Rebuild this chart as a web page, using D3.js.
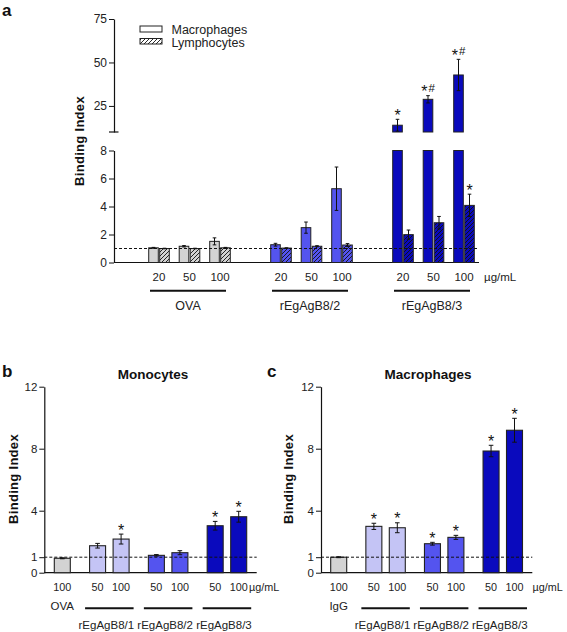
<!DOCTYPE html>
<html><head><meta charset="utf-8">
<script src="https://cdn.jsdelivr.net/npm/d3@7"></script>
<style>
body{margin:0;background:#fff;}
svg{display:block;font-family:"Liberation Sans",Arial,sans-serif;}
</style>
</head><body>
<svg id="chart" width="567" height="632"></svg>
<script>
// ---------- DATA ----------
// Panel a
const concA = ["20", "50", "100"];
const groupsA = ["OVA", "rEgAgB8/2", "rEgAgB8/3"];
const macroA = [1.05, 1.16, 1.51, 1.27, 2.49, 5.27, 13.9, 28.8, 42.8];
const macroErrA = [0.03, 0.05, 0.25, 0.10, 0.40, 1.55, 3.4, 2.1, 9.0];
const lymphoA = [1.00, 1.00, 1.05, 1.03, 1.16, 1.25, 1.99, 2.84, 4.08];
const lymphoErrA = [0.02, 0.02, 0.03, 0.02, 0.04, 0.10, 0.33, 0.45, 0.80];
const macroSigA = ["", "", "", "", "", "", "*", "*#", "*#"];
const lymphoSigA = ["", "", "", "", "", "", "", "", "*"];
const lowTicksA = [0, 2, 4, 6, 8];
const highTicksA = [25, 50, 75];
const legendA = ["Macrophages", "Lymphocytes"];

// Panels b and c
const concBC = [["100"], ["50", "100"], ["50", "100"], ["50", "100"]];
const groupsB = ["OVA", "rEgAgB8/1", "rEgAgB8/2", "rEgAgB8/3"];
const valuesB = [0.93, 1.74, 2.17, 1.12, 1.29, 3.03, 3.61];
const errB = [0.03, 0.15, 0.32, 0.05, 0.13, 0.28, 0.35];
const sigB = ["", "", "*", "", "", "*", "*"];
const groupsC = ["IgG", "rEgAgB8/1", "rEgAgB8/2", "rEgAgB8/3"];
const valuesC = [1.00, 2.99, 2.90, 1.87, 2.28, 7.85, 9.19];
const errC = [0.03, 0.20, 0.32, 0.09, 0.13, 0.37, 0.77];
const sigC = ["", "*", "*", "*", "*", "*", "*"];
const ticksBC = [0, 1, 4, 8, 12];
const unitLabel = "µg/mL";

// ---------- STYLE ----------
const colGray = "#d3d3d3", colLight = "#c4c4f5", colMid = "#5454ef", colDark = "#0a0abd";
const stroke = "#222";
const svg = d3.select("#chart");

const defs = svg.append("defs");
function hatch(id, bg) {
  const p = defs.append("pattern").attr("id", id).attr("patternUnits", "userSpaceOnUse")
    .attr("width", 4).attr("height", 4);
  p.append("rect").attr("width", 4).attr("height", 4).attr("fill", bg);
  p.append("path").attr("d", "M-1,1 l2,-2 M0,4 l4,-4 M3,5 l2,-2")
    .attr("stroke", "#111").attr("stroke-width", 0.9);
}
hatch("hGray", colGray); hatch("hMid", colMid); hatch("hDark", colDark); hatch("hWhite", "#fff");

function styleAxis(g, fs) {
  g.attr("font-family", null).attr("font-size", null);
  g.selectAll("text").attr("font-size", fs).attr("fill", "#222");
  g.selectAll("line").attr("stroke", "#111");
  g.select(".domain").attr("stroke", "#111").attr("stroke-width", 1.2);
}
function errBar(g, cx, yTop, yBot, cap) {
  g.append("line").attr("x1", cx).attr("x2", cx).attr("y1", yTop).attr("y2", yBot)
    .attr("stroke", "#111").attr("stroke-width", 1);
  g.append("line").attr("x1", cx - cap).attr("x2", cx + cap).attr("y1", yTop).attr("y2", yTop)
    .attr("stroke", "#111").attr("stroke-width", 1);
  g.append("line").attr("x1", cx - cap).attr("x2", cx + cap).attr("y1", yBot).attr("y2", yBot)
    .attr("stroke", "#111").attr("stroke-width", 1);
}
function sigText(g, cx, yTop, s) {
  if (!s) return;
  const t = g.append("text").attr("x", cx).attr("y", yTop + 1.5).attr("text-anchor", "middle")
    .attr("fill", "#111");
  t.append("tspan").attr("font-size", 16).text(s[0]);
  if (s.length > 1) t.append("tspan").attr("font-size", 11.5).attr("dx", 1).attr("dy", -5.5).text(s.slice(1));
}
function yTitle(x, y) {
  svg.append("text").attr("transform", `translate(${x},${y}) rotate(-90)`)
    .attr("text-anchor", "middle").attr("font-weight", "bold").attr("font-size", 13)
    .attr("letter-spacing", 0.3).attr("fill", "#111").text("Binding Index");
}
function panelLabel(x, y, s) {
  svg.append("text").attr("x", x).attr("y", y).attr("font-weight", "bold").attr("font-size", 17)
    .attr("fill", "#111").text(s);
}

// ---------- PANEL A ----------
const gA = svg.append("g");
const axXA = 114, axEndA = 479;
const xA = d3.scaleLinear().domain([0, 10]).range([159, 464]);
const yLow = d3.scaleLinear().domain([0, 8]).range([262.5, 150.5]);
const yHigh = d3.scaleLinear().domain([10, 75]).range([132, 19]);
const colsA = [colGray, colMid, colDark];
const hatchA = ["url(#hGray)", "url(#hMid)", "url(#hDark)"];
const bwA = 9.6;

gA.append("g").attr("transform", `translate(${axXA},0)`)
  .call(d3.axisLeft(yLow).tickValues(lowTicksA).tickSize(5).tickSizeOuter(0).tickPadding(2))
  .call(g => styleAxis(g, 12));
gA.append("g").attr("transform", `translate(${axXA},0)`)
  .call(d3.axisLeft(yHigh).tickValues(highTicksA).tickSize(5).tickSizeOuter(0).tickPadding(2))
  .call(g => styleAxis(g, 12));
gA.append("line").attr("x1", axXA - 5).attr("x2", axXA + 4.5).attr("y1", yHigh(10)).attr("y2", yHigh(10))
  .attr("stroke", "#111").attr("stroke-width", 1.2);
gA.append("line").attr("x1", axXA).attr("x2", axEndA).attr("y1", yLow(0)).attr("y2", yLow(0))
  .attr("stroke", "#111").attr("stroke-width", 1.2);

function barA(cx, v, e, fill, sig) {
  if (v <= 8) {
    gA.append("rect").attr("x", cx - bwA / 2).attr("width", bwA).attr("y", yLow(v))
      .attr("height", yLow(0) - yLow(v)).attr("fill", fill).attr("stroke", stroke).attr("stroke-width", 1);
    errBar(gA, cx, yLow(v + e), yLow(v - e), 1.8);
    sigText(gA, cx, yLow(v + e), sig);
  } else {
    gA.append("rect").attr("x", cx - bwA / 2).attr("width", bwA).attr("y", yLow(8))
      .attr("height", yLow(0) - yLow(8)).attr("fill", fill).attr("stroke", stroke).attr("stroke-width", 1);
    gA.append("rect").attr("x", cx - bwA / 2).attr("width", bwA).attr("y", yHigh(v))
      .attr("height", yHigh(10) - yHigh(v)).attr("fill", fill).attr("stroke", stroke).attr("stroke-width", 1);
    errBar(gA, cx, yHigh(v + e), Math.min(yHigh(10), yHigh(v - e)), 1.8);
    sigText(gA, cx, yHigh(v + e), sig);
  }
}
macroA.forEach((v, i) => {
  const g = Math.floor(i / 3), j = i % 3;
  const cx = xA(g * 4 + j);
  barA(cx - 5.5, v, macroErrA[i], colsA[g], macroSigA[i]);
  barA(cx + 5.5, lymphoA[i], lymphoErrA[i], hatchA[g], lymphoSigA[i]);
  gA.append("text").attr("x", cx).attr("y", 281).attr("text-anchor", "middle")
    .attr("font-size", 11.5).attr("fill", "#222").text(concA[j]);
});
// dashed reference line
gA.append("line").attr("x1", axXA).attr("x2", axEndA).attr("y1", yLow(1)).attr("y2", yLow(1))
  .attr("stroke", "#111").attr("stroke-width", 1).attr("stroke-dasharray", "3,2");
gA.append("text").attr("x", 484).attr("y", 281).attr("font-size", 11.5).attr("fill", "#222").text(unitLabel);
groupsA.forEach((name, g) => {
  const x1 = xA(g * 4) - 9, x2 = xA(g * 4 + 2) + 6;
  gA.append("line").attr("x1", x1).attr("x2", x2).attr("y1", 290.7).attr("y2", 290.7)
    .attr("stroke", "#111").attr("stroke-width", 2);
  gA.append("text").attr("x", (x1 + x2) / 2).attr("y", 309.5).attr("text-anchor", "middle")
    .attr("font-size", 12.5).attr("fill", "#222").text(name);
});
// legend
gA.append("rect").attr("x", 140).attr("y", 26).attr("width", 22).attr("height", 6)
  .attr("fill", "#fff").attr("stroke", stroke).attr("stroke-width", 1);
gA.append("rect").attr("x", 140).attr("y", 38.5).attr("width", 22).attr("height", 5.5)
  .attr("fill", "url(#hWhite)").attr("stroke", stroke).attr("stroke-width", 1);
gA.append("text").attr("x", 171.5).attr("y", 34).attr("font-size", 12.5).attr("fill", "#222").text(legendA[0]);
gA.append("text").attr("x", 171.5).attr("y", 47.3).attr("font-size", 12.5).attr("fill", "#222").text(legendA[1]);
yTitle(84, 141);
panelLabel(2, 16, "a");

// ---------- PANELS B & C ----------
const colsBC = [colGray, colLight, colMid, colDark];
function slotOf(g, j) { return g === 0 ? 0 : 1.5 + (g - 1) * 2.5 + j; }
function panelBC(opts) {
  const { axX, axEnd, x0, x1, groups, values, errs, sigs, title, titleX, unitX, letter, letterX, titleYX } = opts;
  const gP = svg.append("g");
  const x = d3.scaleLinear().domain([0, 7.5]).range([x0, x1]);
  const y = d3.scaleLinear().domain([0, 12]).range([572.7, 386.7]);
  const bw = 16;
  gP.append("g").attr("transform", `translate(${axX},0)`)
    .call(d3.axisLeft(y).tickValues(ticksBC).tickSize(5).tickSizeOuter(0).tickPadding(2))
    .call(g => styleAxis(g, 11.5));
  gP.append("line").attr("x1", axX).attr("x2", axEnd).attr("y1", y(0)).attr("y2", y(0))
    .attr("stroke", "#111").attr("stroke-width", 1.2);
  let k = 0;
  concBC.forEach((cs, g) => {
    cs.forEach((c, j) => {
      const cx = x(slotOf(g, j));
      const v = values[k], e = errs[k];
      gP.append("rect").attr("x", cx - bw / 2).attr("width", bw).attr("y", y(v))
        .attr("height", y(0) - y(v)).attr("fill", colsBC[g]).attr("stroke", stroke).attr("stroke-width", 1.1);
      errBar(gP, cx, y(v + e), y(v - e), 2.3);
      sigText(gP, cx, y(v + e), sigs[k]);
      gP.append("text").attr("x", cx).attr("y", 590.7).attr("text-anchor", "middle")
        .attr("font-size", 10.8).attr("fill", "#222").text(c);
      k++;
    });
    if (g === 0) {
      gP.append("text").attr("x", x(slotOf(0, 0))).attr("y", 610).attr("text-anchor", "middle")
        .attr("font-size", 11.5).attr("fill", "#222").text(groups[0]);
    } else {
      const la = x(slotOf(g, 0)) - 12.5, lb = x(slotOf(g, 1)) + 12.5;
      gP.append("line").attr("x1", la).attr("x2", lb).attr("y1", 608.3).attr("y2", 608.3)
        .attr("stroke", "#111").attr("stroke-width", 2);
      gP.append("text").attr("x", (la + lb) / 2 - 3).attr("y", 628.5).attr("text-anchor", "middle")
        .attr("font-size", 11.5).attr("fill", "#222").text(groups[g]);
    }
  });
  gP.append("line").attr("x1", axX).attr("x2", axEnd).attr("y1", y(1)).attr("y2", y(1))
    .attr("stroke", "#111").attr("stroke-width", 1).attr("stroke-dasharray", "3,2");
  gP.append("text").attr("x", unitX).attr("y", 590.7).attr("font-size", 10.8).attr("fill", "#222").text(unitLabel);
  gP.append("text").attr("x", titleX).attr("y", 379).attr("text-anchor", "middle")
    .attr("font-weight", "bold").attr("font-size", 13.5).attr("fill", "#111").text(title);
  yTitle(titleYX, 479);
  panelLabel(letterX, 377, letter);
}
panelBC({ axX: 44.3, axEnd: 256.7, x0: 62.3, x1: 238.7, groups: groupsB, values: valuesB, errs: errB,
  sigs: sigB, title: "Monocytes", titleX: 153, unitX: 249, letter: "b", letterX: 2, titleYX: 17.5 });
panelBC({ axX: 321, axEnd: 532.3, x0: 338.7, x1: 514.5, groups: groupsC, values: valuesC, errs: errC,
  sigs: sigC, title: "Macrophages", titleX: 428, unitX: 532.5, letter: "c", letterX: 267, titleYX: 293 });
</script>
</body></html>
